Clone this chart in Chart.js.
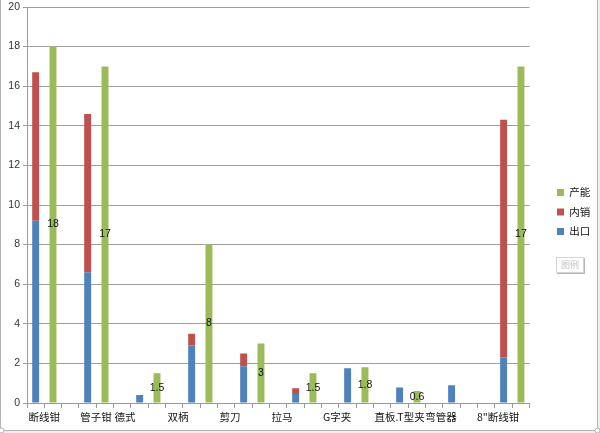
<!DOCTYPE html>
<html><head><meta charset="utf-8">
<script src="https://cdn.jsdelivr.net/npm/chart.js@4/dist/chart.umd.min.js"></script>
<style>
html,body{margin:0;padding:0;background:#fff;}
#wrap{position:relative;width:600px;height:433px;overflow:hidden;}
#legendTag{position:absolute;left:556px;top:257px;width:26px;height:14px;border:1px solid #d4d4d4;box-shadow:1px 1px 0 #b8b8b8;font:9px "Noto Sans CJK SC";color:#c4c4c4;text-align:center;line-height:14px;background:#fff;}
</style></head><body>
<div id="wrap"><canvas id="c" width="600" height="433"></canvas><div id="legendTag">图例</div></div>
<script>
// ---- data ----
const products = ['断线钳','管子钳','德式','双柄','剪刀','拉马','G字夹','直板.T型夹','弯管器','8"断线钳'];
const exportVals   = [9.2, 6.6, 0.4, 2.9, 1.85, 0.45, 1.75, 0.78, 0.9, 2.3];   // 出口
const domesticVals = [7.5, 8.0, null, 0.6, 0.65, 0.3, null, null, null, 12.0]; // 内销
const capacityVals = [18, 17, 1.5, 8, 3, 1.5, 1.8, 0.6, null, 17];              // 产能
const yTickValues  = [0, 2, 4, 6, 8, 10, 12, 14, 16, 18, 20];

// layout: where each product's label sits, in slot units
const labelSlots = [0.49, 3.48, 5.15, 8.21, 11.21, 14.21, 17.39, 21.0, 23.39, 26.68];

// ---- build slot table (stacked slot, capacity slot, blank slot) ----
const slotLabels = [], sExport = [], sDom = [], sCap = [];
products.forEach((p, i) => {
  slotLabels.push(p, p, '');
  sExport.push(exportVals[i], null, null);
  sDom.push(domesticVals[i], null, null);
  sCap.push(null, capacityVals[i], null);
});
slotLabels.pop(); sExport.pop(); sDom.pop(); sCap.pop();
const slotMin = -0.5, slotMax = slotLabels.length - 0.5;

const CJK = '"Noto Sans CJK SC", "Liberation Sans", sans-serif';
const NUM = '"Liberation Sans", "DejaVu Sans", sans-serif';

const valueLabels = {
  id: 'valueLabels',
  afterDatasetsDraw(chart) {
    const ctx = chart.ctx;
    const meta = chart.getDatasetMeta(2);
    const data = chart.data.datasets[2].data;
    ctx.save();
    ctx.font = '10.5px ' + NUM;
    ctx.fillStyle = '#111';
    ctx.textAlign = 'center';
    ctx.textBaseline = 'middle';
    meta.data.forEach((bar, i) => {
      const v = data[i];
      if (v == null) return;
      const p = bar.getProps(['x', 'y', 'base'], true);
      ctx.fillText(String(v), p.x, (p.y + p.base) / 2);
    });
    ctx.restore();
  }
};

const legendFit = {
  id: 'legendFit',
  beforeLayout(chart) {
    const lg = chart.legend;
    if (lg && !lg._patched) {
      const f = lg.fit;
      lg.fit = function () { f.call(this); this.width = 70.4; };
      lg._patched = true;
    }
  },
  afterLayout(chart) {
    const lg = chart.legend;
    if (!lg) return;
    const pad = lg.options.labels.padding;
    lg.left = 557 - pad;
    lg.right = lg.left + 50;
    lg.top -= 8; lg.bottom -= 8;
  }
};

const frame = {
  id: 'frame',
  afterDraw(chart) {
    const ctx = chart.ctx;
    ctx.save();
    ctx.fillStyle = '#efefef';
    ctx.fillRect(598, 0, 2, 433);
    ctx.fillRect(0, 431, 600, 2);
    ctx.strokeStyle = '#b4b4b4';
    ctx.lineWidth = 1;
    ctx.beginPath();
    ctx.moveTo(0.5, 0); ctx.lineTo(0.5, 430.5);
    ctx.lineTo(597.5, 430.5); ctx.lineTo(597.5, 0);
    ctx.stroke();
    ctx.strokeStyle = '#9fb4cc';
    ctx.fillStyle = '#fff';
    [[1.5, 430.5], [597.5, 430.5]].forEach(([x, y]) => {
      ctx.beginPath(); ctx.arc(x, y, 2.5, 0, Math.PI * 2); ctx.fill(); ctx.stroke();
    });
    ctx.restore();
  }
};

new Chart(document.getElementById('c'), {
  type: 'bar',
  data: {
    labels: slotLabels,
    datasets: [
      { label: '出口', data: sExport, backgroundColor: '#4F81BD', xAxisID: 'x', yAxisID: 'y' },
      { label: '内销', data: sDom, backgroundColor: '#C0504D', xAxisID: 'x', yAxisID: 'y' },
      { label: '产能', data: sCap, backgroundColor: '#9BBB59', xAxisID: 'x', yAxisID: 'y' }
    ]
  },
  options: {
    responsive: false,
    animation: false,
    devicePixelRatio: 1,
    datasets: { bar: { categoryPercentage: 1, barPercentage: 0.4, borderWidth: 0 } },
    layout: { padding: { top: 7, left: 0, right: 0, bottom: 0 } },
    plugins: {
      legend: {
        position: 'right',
        reverse: true,
        labels: { boxWidth: 7, boxHeight: 7, padding: 9, color: '#111', font: { size: 10.5, family: CJK } }
      },
      tooltip: { enabled: false }
    },
    scales: {
      x: {
        type: 'category', stacked: true, position: 'bottom', weight: 0,
        grid: { display: true, drawOnChartArea: false, drawTicks: true, tickLength: 5, color: '#9a9a9a', offset: true },
        border: { display: true, color: '#9a9a9a' },
        ticks: { display: false },
        afterFit(s) { s.height = 5; s.paddingLeft = 0; s.paddingRight = 0; }
      },
      xl: {
        type: 'linear', position: 'bottom', weight: 1, min: slotMin, max: slotMax, bounds: 'data', offset: false,
        grid: { display: false, drawTicks: false, offset: false },
        border: { display: false },
        afterBuildTicks(s) {
          s.min = slotMin; s.max = slotMax;
          s.ticks = labelSlots.map(v => ({ value: v }));
        },
        ticks: {
          autoSkip: false, maxRotation: 0, minRotation: 0, padding: 3,
          color: '#111', font: { size: 10.5, family: CJK },
          callback: (v, i) => products[i]
        },
        afterFit(s) { s.height = 25; s.paddingLeft = 0; s.paddingRight = 0; }
      },
      y: {
        type: 'linear', stacked: true, min: 0, max: 20,
        afterBuildTicks(s) { s.ticks = yTickValues.map(v => ({ value: v })); },
        grid: { color: '#a0a0a0', tickLength: 4, drawTicks: true },
        border: { display: true, color: '#9a9a9a' },
        ticks: { padding: 3, color: '#333', font: { size: 10.5, family: NUM } },
        afterFit(s) { s.width = 27; s.paddingTop = 0; s.paddingBottom = 0; }
      }
    }
  },
  plugins: [valueLabels, legendFit, frame]
});
</script>
</body></html>
